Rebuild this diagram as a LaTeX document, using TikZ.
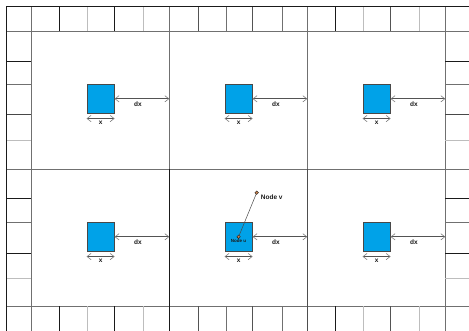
\documentclass[tikz,border=0pt]{standalone}
\usepackage{fontspec}
\setmainfont{Liberation Sans}
\usetikzlibrary{arrows.meta,positioning}
\definecolor{Ink}{HTML}{1A1A1A}
\definecolor{Rule}{HTML}{707070}
\definecolor{Pale}{HTML}{BDBDBD}
\definecolor{Cell}{HTML}{00A2E8}
\definecolor{Dot}{HTML}{C8824E}
\tikzset{gap/.style={{Straight Barb[length=1.4mm,width=2.2mm,color=Rule!90]}-{Straight Barb[length=1.4mm,width=2.2mm,color=Rule!90]},draw=Ink!75,line width=.6pt},blk/.style={fill=Cell,draw=Ink!80,line width=.5pt,minimum width=27.5pt,minimum height=29pt,inner sep=0pt},lbl/.style={font=\bfseries\fontsize{6.5}{6.5}\selectfont,text=Ink,inner sep=1pt},vtx/.style={circle,fill=Dot,draw=Ink,line width=.4pt,minimum size=3.6pt,inner sep=0pt},ruling/.style={line width=.8pt}}

\begin{document}
\begin{tikzpicture}[x=1pt,y=-1pt]
\useasboundingbox (0,0) rectangle (469,331);
\foreach \y in {31.3,169.3,306.3} \draw[Rule,ruling] (6.7,\y) -- (469,\y);
\foreach \x in {31.3,169.3,307.3,445} \draw[Rule,ruling] (\x,6.3) -- (\x,331);
\draw[Ink,line width=1.3pt] (169.3,169.3) -- (169.3,331);
\draw[Rule!70!black,line width=1.1pt] (307.3,169.3) -- (307.3,331);
\foreach \x/\c in {59.3/Ink,87/Pale,114/Ink,143.7/Pale,198/Ink!75,226/Rule,252/Ink!75,282/Rule,335/Ink,363/Pale,390/Ink!75,419/Pale}{
  \draw[\c,ruling] (\x,6.3) -- (\x,31.3);
  \draw[\c,ruling] (\x,306.3) -- (\x,331);
}
\foreach \y/\c in {61/Ink,84.7/Rule,114.7/Ink!80,140.7/Pale,198.7/Ink,222/Rule,253/Ink,278/Pale}{
  \draw[\c,ruling] (6.7,\y) -- (31.3,\y);
  \draw[\c,ruling] (445,\y) -- (469,\y);
}
\draw[Ink,line width=1pt] (6.7,331) -- (6.7,6.3) -- (469,6.3);
\foreach \cx/\ry/\n in {31.3/31.3/a,169.3/31.3/b,307.3/31.3/c,31.3/169.3/d,169.3/169.3/e,307.3/169.3/f}{
  \node[blk] (sq\n) at (\cx+69.3,\ry+67.5) {};
  \coordinate (wall\n) at (\cx+138,\ry+67.5);
  \draw[gap] (sq\n.east) -- (wall\n) node[lbl,midway,below=1.5pt,xshift=-4pt] {dx};
  \coordinate (xl\n) at ([yshift=-5pt]sq\n.south west);
  \coordinate (xr\n) at ([yshift=-5pt]sq\n.south east);
  \draw[gap] (xl\n) -- (xr\n) node[lbl,midway,below=1.5pt] {x};
}
\node[vtx] (u) at (sqe.center) {};
\node[vtx] (v) at (256.7,192.7) {};
\draw[Ink!80,line width=.5pt] (u) -- (v);
\node[lbl,font=\bfseries\fontsize{4.5}{4.5}\selectfont,inner sep=.5pt,below=0pt of u] (ulab) {Node u};
\node[lbl,font=\bfseries\fontsize{6.5}{6.5}\selectfont,right=1pt of v,yshift=-4pt] (vlab) {Node v};
\end{tikzpicture}
\end{document}
